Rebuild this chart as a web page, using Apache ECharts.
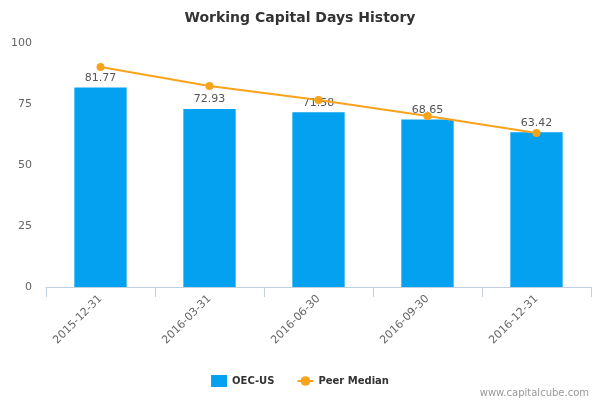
<!DOCTYPE html>
<html>
<head>
<meta charset="utf-8">
<script src="https://cdn.jsdelivr.net/npm/echarts@6/dist/echarts.min.js"></script>
<style>
    html, body {margin: 0; padding: 0; background: #fff;}
    #main {width: 600px; height: 400px;}
</style>
</head>
<body>
<div id="main"></div>
<script>
    var dates = ['2015-12-31', '2016-03-31', '2016-06-30', '2016-09-30', '2016-12-31'];
    var companyDays = [81.77, 72.93, 71.58, 68.65, 63.42];
    var peerMedian = [90.2, 82.4, 76.6, 70.1, 63.1];
    var yTicks = [0, 25, 50, 75, 100];

    var chart = echarts.init(document.getElementById('main'), null, {renderer: 'canvas'});
    chart.setOption({
        animation: false,
        textStyle: {fontFamily: 'DejaVu Sans'},
        title: {
            text: 'Working Capital Days History', left: 'center', top: 6,
            textStyle: {fontSize: 14, fontWeight: 'bold', color: '#333', fontFamily: 'DejaVu Sans'}
        },
        legend: {
            bottom: 8, left: 'center', itemGap: 22, itemWidth: 16, itemHeight: 12,
            textStyle: {fontSize: 10, fontWeight: 'bold', color: '#333'},
            data: [
                {name: 'OEC-US', icon: 'rect'},
                {name: 'Peer Median'}
            ]
        },
        graphic: [{
            type: 'text', right: 11, bottom: 2,
            style: {text: 'www.capitalcube.com', fill: '#999', fontSize: 10, fontFamily: 'DejaVu Sans'}
        }],
        grid: {left: 46, right: 9, top: 43, bottom: 113, containLabel: false},
        xAxis: {
            type: 'category', data: dates, boundaryGap: true,
            axisLine: {lineStyle: {color: '#c0d0e0'}},
            axisTick: {show: true, length: 10, lineStyle: {color: '#c0d0e0'}},
            axisLabel: {rotate: 45, color: '#666', fontSize: 11, margin: 10}
        },
        yAxis: {
            type: 'value', min: yTicks[0], max: yTicks[yTicks.length - 1], interval: 25,
            splitLine: {show: false}, axisLine: {show: false}, axisTick: {show: false},
            axisLabel: {color: '#666', fontSize: 11, margin: 14}
        },
        series: [
            {
                name: 'OEC-US', type: 'bar', data: companyDays, barWidth: '48%',
                itemStyle: {color: '#03a1ef'},
                label: {show: true, position: 'top', color: '#555', fontSize: 11, distance: 4,
                    formatter: function (p) { return p.value.toFixed(2); }}
            },
            {
                name: 'Peer Median', type: 'line', data: peerMedian,
                symbol: 'circle', symbolSize: 8,
                lineStyle: {color: '#f8a31b', width: 2},
                itemStyle: {color: '#f8a31b'}
            }
        ]
    });
</script>
</body>
</html>
